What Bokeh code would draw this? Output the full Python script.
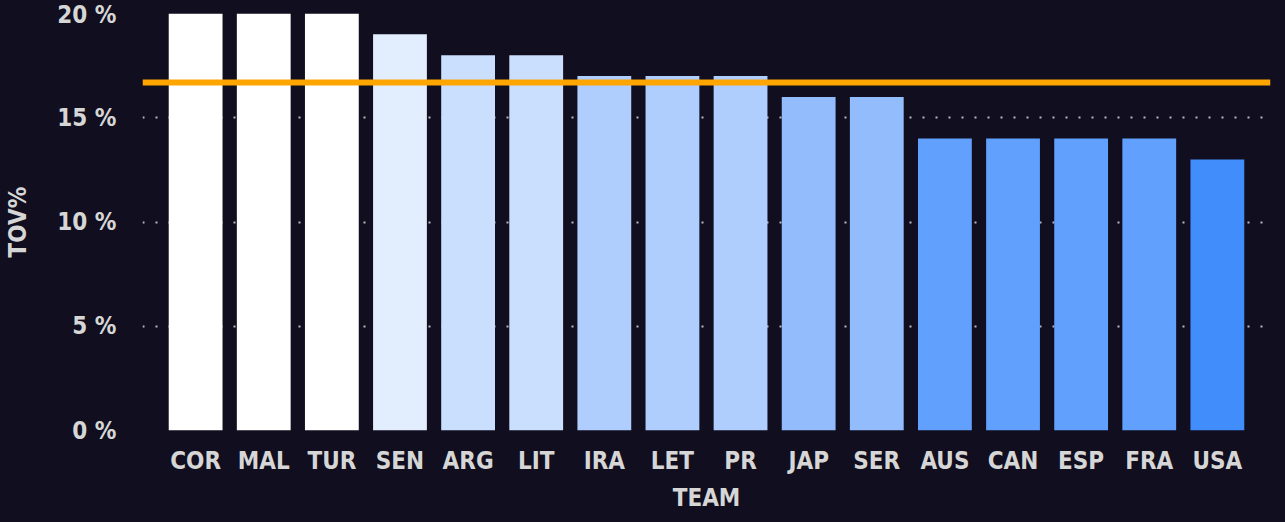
from bokeh.plotting import figure
from bokeh.models import ColumnDataSource, Span, PrintfTickFormatter, FixedTicker
from bokeh.embed import file_html
from bokeh.resources import INLINE

teams = ["COR", "MAL", "TUR", "SEN", "ARG", "LIT", "IRA", "LET", "PR", "JAP", "SER", "AUS", "CAN", "ESP", "FRA", "USA"]
tov = [20, 20, 20, 19, 18, 18, 17, 17, 17, 16, 16, 14, 14, 14, 14, 13]
colors = ["#ffffff", "#ffffff", "#ffffff", "#e2edfe", "#cadefe", "#cadefe", "#afcdfd", "#afcdfd", "#afcdfd",
          "#93bcfd", "#93bcfd", "#61a0fc", "#61a0fc", "#61a0fc", "#61a0fc", "#408dfb"]
y_ticks = [0, 5, 10, 15, 20]
mean_tov = sum(tov) / len(tov)

FONT = "DejaVu Sans Condensed"
BG = "#110e1f"
TXT = "#d6d6d6"

src = ColumnDataSource(dict(team=teams, tov=tov, color=colors))

p = figure(x_range=teams, y_range=(0, 20),
           frame_width=1128, frame_height=417,
           output_backend="svg", toolbar_location=None,
           background_fill_color=None, border_fill_color=None,
           outline_line_color=None,
           min_border_left=142, min_border_right=6, min_border_top=13, min_border_bottom=84)
p.x_range.range_padding = 0.28
p.x_range.range_padding_units = "absolute"

p.vbar(x="team", top="tov", width=0.79, color="color", source=src, line_color=None)

p.add_layout(Span(location=mean_tov, dimension="width", line_color="#ffa500", line_width=6))

p.xgrid.grid_line_color = None
p.ygrid.grid_line_color = "#b8b8c0"
p.ygrid.grid_line_width = 2
p.ygrid.grid_line_dash = "2 11"
p.ygrid.level = "underlay"

p.yaxis.ticker = FixedTicker(ticks=y_ticks)
p.yaxis.formatter = PrintfTickFormatter(format="%d %%")

for ax in (p.xaxis[0], p.yaxis[0]):
    ax.axis_line_color = None
    ax.major_tick_line_color = None
    ax.minor_tick_line_color = None
    ax.major_label_text_font = FONT
    ax.major_label_text_font_style = "bold"
    ax.major_label_text_font_size = "24px"
    ax.major_label_text_color = TXT
    ax.axis_label_text_font = FONT
    ax.axis_label_text_font_style = "bold"
    ax.axis_label_text_font_size = "24px"
    ax.axis_label_text_color = TXT

p.xaxis.axis_label = "TEAM"
p.yaxis.axis_label = "TOV%"
p.yaxis.major_label_standoff = 20
p.xaxis.major_label_standoff = 10
p.xaxis.axis_label_standoff = 6
p.yaxis.axis_label_standoff = 22

html = file_html(p, INLINE)
html = html.replace("<body>", '<body style="background-color:#110e1f;">', 1)
html = html.replace("<html", '<html style="background-color:#110e1f;"', 1)
open("out.html", "w").write(html)
